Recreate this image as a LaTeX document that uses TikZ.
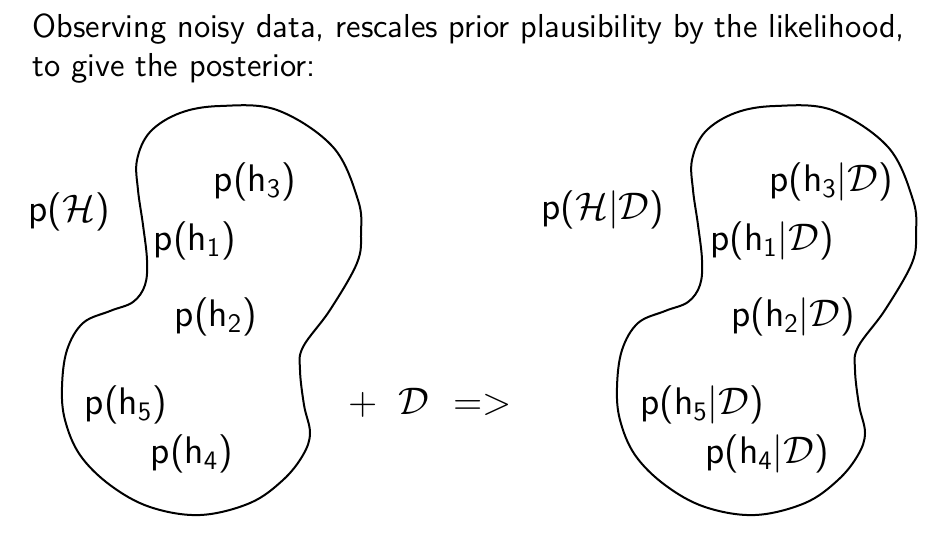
\documentclass[tikz,border=0pt]{standalone}
\usepackage{amsmath,amssymb}
\usepackage{tikz}
\usetikzlibrary{positioning}

\begin{document}
\begin{tikzpicture}[x=0.375pt, y=-0.375pt, font=\sffamily,
    blob/.style={draw=black, line width=0.75pt},
    prob/.style={inner sep=0pt, font=\sffamily\fontsize{14.4}{17}\selectfont},
    header/.style={anchor=base west, inner sep=0pt, font=\sffamily\fontsize{12.45}{14.6}\selectfont}
]
\useasboundingbox (0,0) rectangle (934,538);

% Heading
\node[header] (title) at (32,37) {Observing noisy data, rescales prior plausibility by the likelihood,};
\node[header] (title2) at (32,76) {to give the posterior:};

% Prior (left)
\draw[blob] plot[smooth cycle, tension=0.6] coordinates {
    (220,106) (277,110) (333,147) (358,200) (361,233) (357,263) (330,310)
    (303,347) (300,370) (304,405) (310,433) (303,455) (283,480) (250,503)
    (200,515) (150,507) (110,485) (80,455) (65,420) (62,387) (67,350)
    (83,323) (110,311) (133,302) (145,285) (147,260) (143,225) (138,190)
    (137,160) (150,132) (180,113)};
\node[prob] (pH) at (69,212) {p($\mathcal{H}$)};
\node[prob] (h3) at (255,182) {p(h\textsubscript{3})};
\node[prob] (h1) at (195,241) {p(h\textsubscript{1})};
\node[prob] (h2) at (216,317) {p(h\textsubscript{2})};
\node[prob] (h5) at (126,405) {p(h\textsubscript{5})};
\node[prob] (h4) at (192,454) {p(h\textsubscript{4})};

% Observation
\node[prob] (obs) at (430,403) {$+$\hspace{8pt}$\mathcal{D}$\hspace{9pt}=>};

% Posterior (right)
\draw[blob, shift={(555,0)}] plot[smooth cycle, tension=0.6] coordinates {
    (220,106) (277,110) (333,147) (358,200) (361,233) (357,263) (330,310)
    (303,347) (300,370) (304,405) (310,433) (303,455) (283,480) (250,503)
    (200,515) (150,507) (110,485) (80,455) (65,420) (62,387) (67,350)
    (83,323) (110,311) (133,302) (145,285) (147,260) (143,225) (138,190)
    (137,160) (150,132) (180,113)};
\node[prob] (pHD) at (603,210) {p($\mathcal{H}|\mathcal{D}$)};
\node[prob] (h3D) at (831,182) {p(h\textsubscript{3}$|\mathcal{D}$)};
\node[prob] (h1D) at (772,241) {p(h\textsubscript{1}$|\mathcal{D}$)};
\node[prob] (h2D) at (793,317) {p(h\textsubscript{2}$|\mathcal{D}$)};
\node[prob] (h5D) at (702,405) {p(h\textsubscript{5}$|\mathcal{D}$)};
\node[prob] (h4D) at (767,454) {p(h\textsubscript{4}$|\mathcal{D}$)};

\end{tikzpicture}
\end{document}
